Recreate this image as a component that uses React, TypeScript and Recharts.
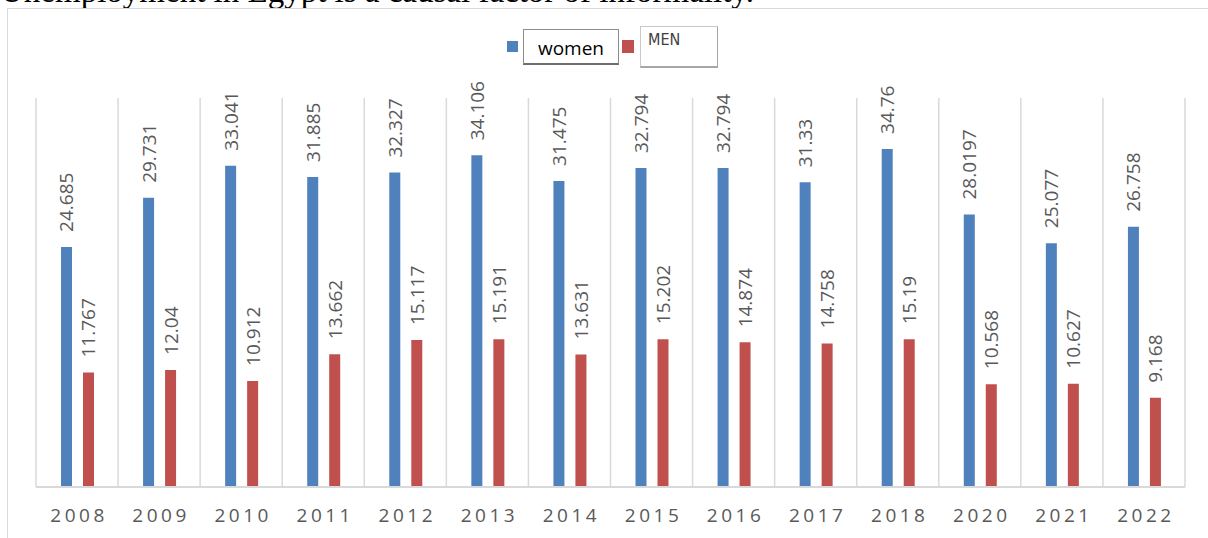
import { BarChart, Bar, XAxis, YAxis, CartesianGrid, Legend, LabelList } from "recharts";

const years = ["2008", "2009", "2010", "2011", "2012", "2013", "2014", "2015", "2016", "2017", "2018", "2020", "2021", "2022"];
const women = [24.685, 29.731, 33.041, 31.885, 32.327, 34.106, 31.475, 32.794, 32.794, 31.33, 34.76, 28.0197, 25.077, 26.758];
const men = [11.767, 12.04, 10.912, 13.662, 15.117, 15.191, 13.631, 15.202, 14.874, 14.758, 15.19, 10.568, 10.627, 9.168];

const data = years.map((year, i) => ({ year, women: women[i], men: men[i] }));

const BLUE = "#4F81BD";
const RED = "#C0504D";
const GRID = "#d9d9d9";
const LABEL = "#595959";

// rotated value label sitting above each bar
const VerticalLabel = (props: any) => {
    const { x, y, width, value } = props;
    const cx = x + width / 2 + 7;
    const cy = y - 15;
    return (
        <text
            x={cx}
            y={cy}
            transform={`rotate(-90 ${cx} ${cy})`}
            textAnchor="start"
            fill={LABEL}
            fontSize={19}
            fontFamily="'Open Sans', sans-serif"
        >
            {value}
        </text>
    );
};

const YearTick = (props: any) => {
    const { x, y, payload } = props;
    return (
        <text
            x={x + 2}
            y={y + 27}
            textAnchor="middle"
            fill={LABEL}
            fontSize={19}
            letterSpacing={3.5}
            fontFamily="'Open Sans', sans-serif"
        >
            {payload.value}
        </text>
    );
};

const renderLegend = () => (
    <div style={{ position: "relative", width: 1208, height: 80 }}>
        <div style={{ position: "absolute", left: 507, top: 41, width: 11, height: 11, background: BLUE }} />
        <div
            style={{
                position: "absolute",
                left: 523,
                top: 29,
                width: 96,
                height: 36,
                background: "#fff",
                border: "1px solid #8c8c8c",
                borderBottom: "2px solid #6e6e6e",
                boxSizing: "border-box",
                textAlign: "center",
                lineHeight: "36px",
                fontSize: 19,
                fontFamily: "'Open Sans', sans-serif",
                color: "#000",
            }}
        >
            women
        </div>
        <div style={{ position: "absolute", left: 622, top: 40, width: 12, height: 13, background: RED }} />
        <div
            style={{
                position: "absolute",
                left: 640,
                top: 26,
                width: 78,
                height: 42,
                background: "#fff",
                border: "1px solid #c8c8c8",
                borderBottom: "2px solid #a6a6a6",
                borderRight: "1px solid #a6a6a6",
                boxSizing: "border-box",
                fontSize: 16,
                fontFamily: "'DejaVu Sans Condensed', 'DejaVu Sans', sans-serif",
                color: "#404040",
                paddingLeft: 7,
                paddingTop: 3,
                lineHeight: "20px",
            }}
        >
            MEN
        </div>
    </div>
);

export default function App() {
    return (
        <div style={{ position: "absolute", left: 0, top: 0, width: 1208, height: 538, overflow: "hidden", background: "#fff" }}>
            <div
                style={{
                    position: "absolute",
                    left: 0,
                    top: -25,
                    whiteSpace: "nowrap",
                    fontFamily: "'Liberation Serif', serif",
                    fontSize: 33,
                    lineHeight: "33px",
                    color: "#000",
                }}
            >
                Unemployment in Egypt is a causal factor of informality.
            </div>
            <div
                style={{
                    position: "absolute",
                    left: 7,
                    top: 8,
                    width: 1300,
                    height: 700,
                    border: `1px solid ${GRID}`,
                }}
            />
            <div style={{ position: "absolute", left: 0, top: 0 }}>
                <BarChart
                    width={1208}
                    height={538}
                    data={data}
                    margin={{ top: 18, right: 23, left: 36, bottom: 0 }}
                    barSize={11}
                    barGap={11}
                >
                    <CartesianGrid
                        horizontal={false}
                        stroke={GRID}
                        strokeWidth={1.5}
                        verticalCoordinatesGenerator={({ offset }: any) =>
                            Array.from({ length: years.length + 1 }, (_, i) => offset.left + (i * offset.width) / years.length)
                        }
                    />
                    <XAxis
                        dataKey="year"
                        height={51}
                        axisLine={{ stroke: GRID, strokeWidth: 2 }}
                        tickLine={false}
                        tick={<YearTick />}
                        interval={0}
                    />
                    <YAxis hide domain={[0, 40]} />
                    <Legend
                        verticalAlign="top"
                        content={renderLegend}
                        wrapperStyle={{ position: "absolute", left: 0, top: 0, width: 1208, height: 80 }}
                    />
                    <Bar dataKey="women" name="women" fill={BLUE} isAnimationActive={false}>
                        <LabelList dataKey="women" content={<VerticalLabel />} />
                    </Bar>
                    <Bar dataKey="men" name="MEN" fill={RED} isAnimationActive={false}>
                        <LabelList dataKey="men" content={<VerticalLabel />} />
                    </Bar>
                </BarChart>
            </div>
        </div>
    );
}
